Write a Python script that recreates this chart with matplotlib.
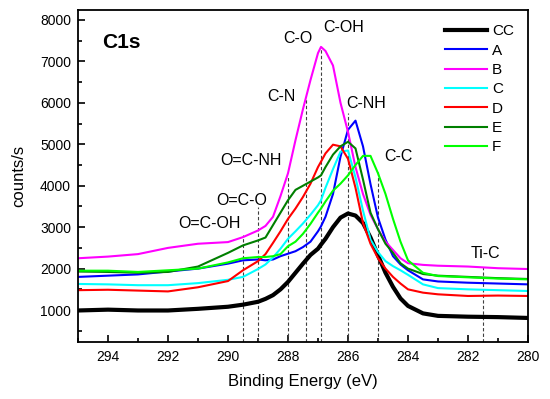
import matplotlib
matplotlib.use('Agg')
import matplotlib.pyplot as plt
from matplotlib.ticker import MultipleLocator

plt.rcParams['font.family'] = ['Liberation Sans', 'DejaVu Sans']

# binding energy grid (eV)
energy = [295, 294, 293, 292, 291, 290, 289.5, 289.0, 288.75, 288.5, 288.25, 288.0,
          287.75, 287.5, 287.25, 287.0, 286.9, 286.75, 286.5, 286.25, 286.0, 285.75,
          285.5, 285.25, 285.0, 284.75, 284.5, 284.25, 284.0, 283.5, 283.0, 282.0,
          281.0, 280.0]

cc = [990, 1010, 990, 990, 1030, 1080, 1130, 1200, 1270, 1360, 1500, 1680,
      1900, 2120, 2330, 2480, 2580, 2720, 3000, 3230, 3330, 3280,
      3100, 2750, 2320, 1900, 1560, 1280, 1100, 920, 860, 840,
      830, 810]
a = [1800, 1830, 1860, 1930, 2000, 2120, 2200, 2220, 2200, 2220, 2300, 2360,
     2420, 2520, 2650, 2900, 3020, 3250, 3800, 4700, 5350, 5570,
     4950, 4040, 3230, 2700, 2300, 2100, 1960, 1740, 1690, 1660,
     1640, 1620]
b = [2250, 2290, 2350, 2500, 2600, 2640, 2760, 2920, 3030, 3250, 3750, 4300,
     5100, 5850, 6550, 7200, 7350, 7250, 6900, 6000, 5300, 4450,
     3800, 3300, 2950, 2650, 2450, 2250, 2130, 2090, 2070, 2050,
     2010, 1990]
c = [1630, 1620, 1600, 1600, 1650, 1730, 1800, 1990, 2100, 2270, 2480, 2720,
     2900, 3090, 3300, 3530, 3650, 3950, 4400, 4820, 4850, 4200,
     3400, 2700, 2400, 2180, 2060, 1960, 1850, 1620, 1530, 1500,
     1480, 1460]
d = [1480, 1490, 1470, 1450, 1550, 1700, 1960, 2180, 2350, 2620, 2900, 3200,
     3450, 3730, 4050, 4450, 4580, 4780, 4990, 4950, 4650, 3950,
     3100, 2600, 2250, 2000, 1800, 1640, 1500, 1420, 1380, 1340,
     1350, 1340]
e = [1930, 1920, 1900, 1920, 2050, 2380, 2560, 2680, 2750, 3050, 3350, 3650,
     3900, 4000, 4100, 4200, 4250, 4450, 4750, 4950, 5060, 4900,
     4150, 3350, 2950, 2600, 2380, 2130, 2000, 1870, 1830, 1800,
     1770, 1750]
f = [1950, 1950, 1920, 1960, 2000, 2150, 2250, 2280, 2280, 2300, 2350, 2540,
     2650, 2840, 3080, 3350, 3450, 3620, 3880, 4050, 4250, 4500,
     4720, 4720, 4300, 3800, 3200, 2650, 2200, 1900, 1820, 1790,
     1760, 1740]

series = [('CC', cc, 'black', 3.0), ('A', a, '#0000ff', 1.5), ('B', b, '#ff00ff', 1.5),
          ('C', c, '#00ffff', 1.5), ('D', d, '#ff0000', 1.5), ('E', e, '#007f00', 1.5),
          ('F', f, '#00ff00', 1.5)]

# peak assignments: dashed marker positions and their heights
peak_pos = [289.5, 289.0, 288.0, 287.4, 286.9, 286.0, 285.0, 281.5]
peak_top = [2810, 3490, 4210, 6120, 7320, 5750, 4380, 2040]

labels = ['C1s', 'O=C-OH', 'O=C-O', 'O=C-NH', 'C-N', 'C-O', 'C-OH', 'C-NH', 'C-C', 'Ti-C']
label_x = [293.57, 290.62, 289.53, 289.23, 288.23, 287.68, 286.14, 285.41, 284.32, 281.42]
label_y = [7445, 3083, 3655, 4609, 6141, 7558, 7819, 5984, 4717, 2369]

fig = plt.figure(figsize=(5.5, 3.99), dpi=100)
ax = fig.add_axes([0.1418, 0.1429, 0.8182, 0.8321])

ymin = 230
ax.vlines(peak_pos, ymin, peak_top, colors='0.25', linestyles=(0, (3, 2)), linewidth=0.8)

for name, vals, col, lw in series:
    ax.plot(energy, vals, color=col, lw=lw, label=name)

for i, txt in enumerate(labels):
    if txt == 'C1s':
        ax.text(label_x[i], label_y[i], txt, fontsize=15, fontweight='bold', ha='center', va='center')
    else:
        ax.text(label_x[i], label_y[i], txt, fontsize=11.5, ha='center', va='center')

ax.set_xlim(295, 280)
ax.set_ylim(ymin, 8240)
ax.xaxis.set_major_locator(MultipleLocator(2))
ax.xaxis.set_minor_locator(MultipleLocator(1))
ax.yaxis.set_major_locator(MultipleLocator(1000))
ax.yaxis.set_minor_locator(MultipleLocator(500))
ax.tick_params(which='both', direction='in', width=1.2, labelsize=10)
ax.tick_params(which='major', length=5)
ax.tick_params(which='minor', length=3)
ax.tick_params(axis='y', pad=5)
ax.tick_params(axis='x', pad=6)
for sp in ax.spines.values():
    sp.set_linewidth(1.3)

ax.set_xlabel('Binding Energy (eV)', fontsize=12, labelpad=7)
ax.set_ylabel('counts/s', fontsize=12, labelpad=10)

ax.legend(loc='upper left', bbox_to_anchor=(0.8156, 0.957), frameon=False, fontsize=11,
          handlelength=2.75, handletextpad=0.33, labelspacing=0.35, borderpad=0,
          borderaxespad=0)

fig.savefig('out.png', dpi=100)
